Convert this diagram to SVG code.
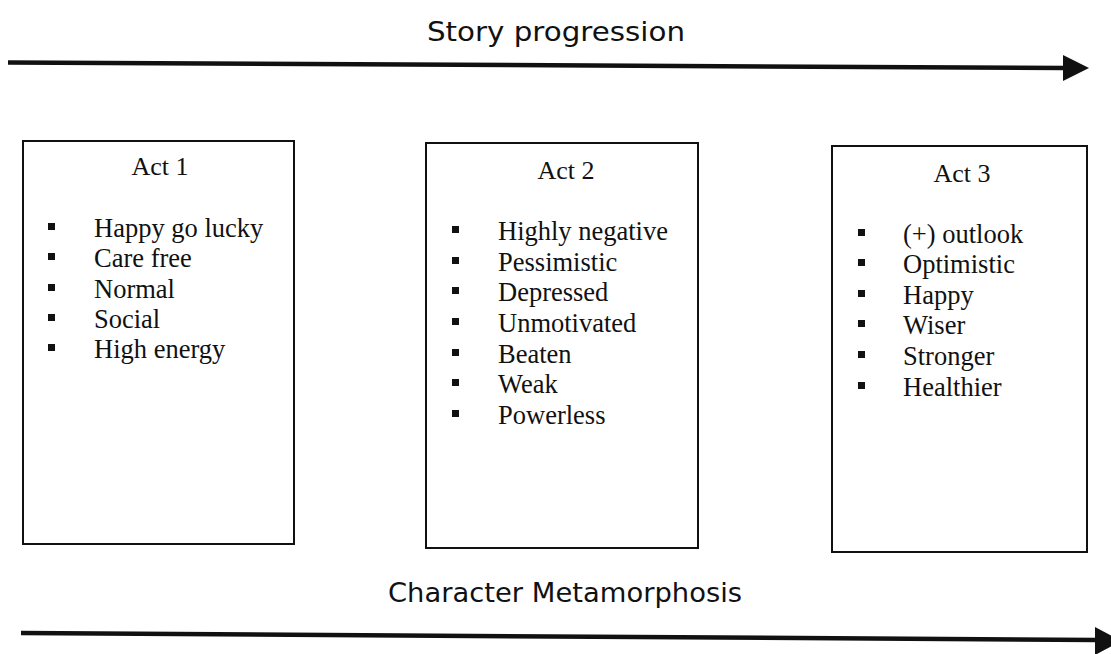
<svg xmlns="http://www.w3.org/2000/svg" width="1111" height="654" viewBox="0 0 1111 654">
<style>
.hdr{font-family:"DejaVu Sans",Verdana,sans-serif;font-size:27px;fill:#111;text-anchor:middle}
.box{fill:#fff;stroke:#111;stroke-width:2}
.t{font-family:"Liberation Serif","Times New Roman",serif;font-size:26.5px;fill:#111}
.ttl{font-family:"Liberation Serif","Times New Roman",serif;font-size:26px;fill:#111;text-anchor:middle}
.b{fill:#111}
.ln{stroke:#111;stroke-width:4.5;fill:none}
</style>
<rect width="1111" height="654" fill="#fff"/>
<g id="labels">
<text class="hdr" x="556" y="41" textLength="258" lengthAdjust="spacingAndGlyphs">Story progression</text>
<text class="hdr" x="565" y="602" textLength="354" lengthAdjust="spacingAndGlyphs">Character Metamorphosis</text>
</g>
<g id="connectors">
<line class="ln" x1="8" y1="62.5" x2="1066" y2="68"/>
<polygon class="b" points="1063,55 1089,68 1063,81"/>
<line class="ln" x1="21" y1="633" x2="1097" y2="640"/>
<polygon class="b" points="1095,627 1121,641 1095,655"/>
</g>
<g id="act1">
<rect class="box" x="23" y="141" width="271" height="403"/>
<text class="ttl" x="160" y="175">Act 1</text>
<rect class="b" x="48" y="223" width="7" height="7"/><text class="t" x="94" y="237">Happy go lucky</text>
<rect class="b" x="48" y="253" width="7" height="7"/><text class="t" x="94" y="267">Care free</text>
<rect class="b" x="48" y="284" width="7" height="7"/><text class="t" x="94" y="298">Normal</text>
<rect class="b" x="48" y="314" width="7" height="7"/><text class="t" x="94" y="328">Social</text>
<rect class="b" x="48" y="344" width="7" height="7"/><text class="t" x="94" y="358">High energy</text>
</g>
<g id="act2">
<rect class="box" x="426" y="143" width="272" height="405"/>
<text class="ttl" x="566" y="179">Act 2</text>
<rect class="b" x="452" y="226" width="7" height="7"/><text class="t" x="498" y="240">Highly negative</text>
<rect class="b" x="452" y="257" width="7" height="7"/><text class="t" x="498" y="271">Pessimistic</text>
<rect class="b" x="452" y="287" width="7" height="7"/><text class="t" x="498" y="301">Depressed</text>
<rect class="b" x="452" y="318" width="7" height="7"/><text class="t" x="498" y="332">Unmotivated</text>
<rect class="b" x="452" y="349" width="7" height="7"/><text class="t" x="498" y="363">Beaten</text>
<rect class="b" x="452" y="379" width="7" height="7"/><text class="t" x="498" y="393">Weak</text>
<rect class="b" x="452" y="410" width="7" height="7"/><text class="t" x="498" y="424">Powerless</text>
</g>
<g id="act3">
<rect class="box" x="832" y="146" width="255" height="406"/>
<text class="ttl" x="962" y="182">Act 3</text>
<rect class="b" x="858" y="229" width="7" height="7"/><text class="t" x="903" y="243">(+) outlook</text>
<rect class="b" x="858" y="259" width="7" height="7"/><text class="t" x="903" y="273">Optimistic</text>
<rect class="b" x="858" y="290" width="7" height="7"/><text class="t" x="903" y="304">Happy</text>
<rect class="b" x="858" y="320" width="7" height="7"/><text class="t" x="903" y="334">Wiser</text>
<rect class="b" x="858" y="351" width="7" height="7"/><text class="t" x="903" y="365">Stronger</text>
<rect class="b" x="858" y="382" width="7" height="7"/><text class="t" x="903" y="396">Healthier</text>
</g>
</svg>
